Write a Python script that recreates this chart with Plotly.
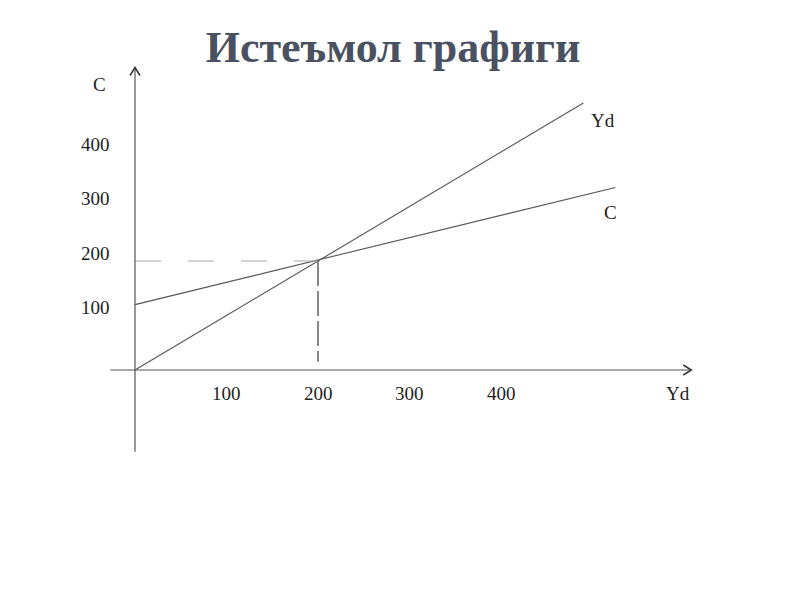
import plotly.graph_objects as go

# ---- data (economic units) ----
yd_line_x = [0, 490]          # 45-degree line Yd = C
yd_line_y = [0, 490]
c_line_x = [0, 525]           # consumption function C = a + bYd
c_line_y = [120, 335]
eq_yd = 200                   # equilibrium point
eq_c = 200
x_tick_vals = [100, 200, 300, 400]
x_tick_text = ["100", "200", "300", "400"]
y_tick_vals = [100, 200, 300, 400]
y_tick_text = ["100", "200", "300", "400"]
title_text = "Истеъмол графиги"
x_axis_label = "Yd"
y_axis_label = "C"
yd_line_label = "Yd"
c_line_label = "C"
x_axis_extent = [-27, 608]
y_axis_extent = [-150, 555]

# ---- layout geometry ----
W, H = 800, 600
ML, MR, MT, MB = 80, 80, 60, 100
ORIGIN_PX = (135, 370)
SX, SY = 0.915, 0.545
x_range = [(ML - ORIGIN_PX[0]) / SX, (W - MR - ORIGIN_PX[0]) / SX]
y_range = [(ORIGIN_PX[1] - (H - MB)) / SY, (ORIGIN_PX[1] - MT) / SY]

SERIF = "Liberation Serif, Times New Roman, serif"
LINE_COL = "#555555"
TXT_COL = "#222222"
FS = 19

fig = go.Figure()
fig.add_trace(go.Scatter(x=yd_line_x, y=yd_line_y, mode="lines",
                         line=dict(color=LINE_COL, width=1.1), hoverinfo="skip"))
fig.add_trace(go.Scatter(x=c_line_x, y=c_line_y, mode="lines",
                         line=dict(color=LINE_COL, width=1.1), hoverinfo="skip"))
# dashed guides
fig.add_trace(go.Scatter(x=[0, eq_yd], y=[eq_c, eq_c], mode="lines",
                         line=dict(color="#a8a8a8", width=1.2, dash="26px,27px"), hoverinfo="skip"))
fig.add_trace(go.Scatter(x=[eq_yd, eq_yd], y=[eq_c, 15], mode="lines",
                         line=dict(color="#555555", width=1.4, dash="25px,5px"), hoverinfo="skip"))

shapes = [
    dict(type="line", x0=x_axis_extent[0], x1=x_axis_extent[1], y0=0, y1=0,
         line=dict(color=LINE_COL, width=1.2)),
    dict(type="line", x0=0, x1=0, y0=y_axis_extent[0], y1=y_axis_extent[1],
         line=dict(color=LINE_COL, width=1.2)),
    dict(type="path", xsizemode="pixel", ysizemode="pixel",
         xanchor=x_axis_extent[1], yanchor=0,
         path="M -8 5 L 0 0 L -8 -5", line=dict(color="#333333", width=1.5)),
    dict(type="path", xsizemode="pixel", ysizemode="pixel",
         xanchor=0, yanchor=y_axis_extent[1],
         path="M -5 -8 L 0 0 L 5 -8", line=dict(color="#333333", width=1.5)),
]

annotations = []
for v, t in zip(x_tick_vals, x_tick_text):
    annotations.append(dict(x=v, y=0, text=t, showarrow=False, yshift=-23,
                            font=dict(family=SERIF, size=FS, color=TXT_COL)))
for v, t in zip(y_tick_vals, y_tick_text):
    annotations.append(dict(x=0, y=v, text=t, showarrow=False, xshift=-40, yshift=8,
                            font=dict(family=SERIF, size=FS, color=TXT_COL)))
annotations += [
    dict(x=0, y=y_axis_extent[1], text=y_axis_label, showarrow=False, xshift=-36, yshift=-17,
         font=dict(family=SERIF, size=FS, color=TXT_COL)),
    dict(x=x_axis_extent[1], y=0, text=x_axis_label, showarrow=False, xshift=-13, yshift=-23,
         font=dict(family=SERIF, size=FS, color=TXT_COL)),
    dict(x=yd_line_x[-1], y=yd_line_y[-1], text=yd_line_label, showarrow=False, xshift=20, yshift=-18,
         font=dict(family=SERIF, size=FS, color=TXT_COL)),
    dict(x=c_line_x[-1], y=c_line_y[-1], text=c_line_label, showarrow=False, xshift=-5, yshift=-25,
         font=dict(family=SERIF, size=FS, color=TXT_COL)),
]

fig.update_layout(
    width=W, height=H,
    margin=dict(l=ML, r=MR, t=MT, b=MB),
    paper_bgcolor="white", plot_bgcolor="white",
    showlegend=False,
    title=dict(text=f"<b>{title_text}</b>", x=393 / W, xanchor="center",
               y=1 - 47 / H, yanchor="middle", yref="container",
               font=dict(family=SERIF, size=44, color="#4a5261")),
    xaxis=dict(range=x_range, visible=False, fixedrange=True),
    yaxis=dict(range=y_range, visible=False, fixedrange=True),
    shapes=shapes,
    annotations=annotations,
)

fig.write_html("out.html", config={"displayModeBar": False},
               post_script="document.body.style.margin='0';")
